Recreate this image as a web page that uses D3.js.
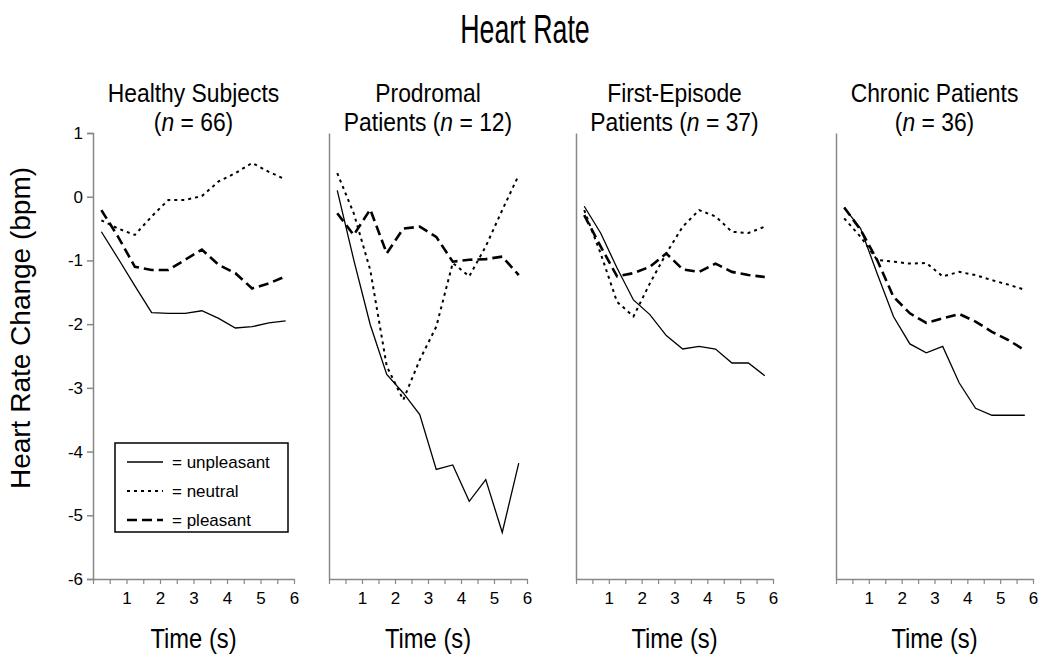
<!DOCTYPE html>
<html>
<head>
<meta charset="utf-8">
<script src="https://cdn.jsdelivr.net/npm/d3@7"></script>
<style>
  body { margin: 0; background: #fff; }
  svg text { font-family: "Liberation Sans", Arial, sans-serif; fill: #000; }
</style>
</head>
<body>
<div id="chart"></div>
<script>
// time bins (s), midpoints of 0.5 s bins
var times = [0.25, 0.75, 1.25, 1.75, 2.25, 2.75, 3.25, 3.75, 4.25, 4.75, 5.25, 5.75];
var xTicks = [0, 0.5, 1, 1.5, 2, 2.5, 3, 3.5, 4, 4.5, 5, 5.5, 6];
var xLabels = [1, 2, 3, 4, 5, 6];
var yTicks = [1, 0, -1, -2, -3, -4, -5, -6];

// title line 1, line 2 before italic n, after italic n
var groupNames = ["Healthy Subjects", "Prodromal", "First-Episode", "Chronic Patients"];
var groupPre = ["(", "Patients (", "Patients (", "("];
var groupN = [" = 66)", " = 12)", " = 37)", " = 36)"];

// heart rate change (bpm) per group
var healthyUnpleasant = [-0.55, -0.97, -1.40, -1.82, -1.83, -1.83, -1.79, -1.91, -2.06, -2.04, -1.98, -1.95];
var healthyNeutral    = [-0.37, -0.50, -0.60, -0.31, -0.05, -0.05, 0.01, 0.24, 0.37, 0.53, 0.39, 0.27];
var healthyPleasant   = [-0.21, -0.63, -1.10, -1.15, -1.15, -0.99, -0.83, -1.07, -1.20, -1.44, -1.36, -1.25];

var prodromalUnpleasant = [0.10, -0.99, -2.01, -2.79, -3.08, -3.42, -4.28, -4.21, -4.78, -4.44, -5.27, -4.18];
var prodromalNeutral    = [0.37, -0.26, -1.15, -2.66, -3.19, -2.56, -2.04, -1.04, -1.25, -0.78, -0.21, 0.34];
var prodromalPleasant   = [-0.26, -0.60, -0.20, -0.89, -0.50, -0.47, -0.63, -1.02, -0.99, -0.98, -0.94, -1.23];

var firstUnpleasant = [-0.15, -0.57, -1.12, -1.62, -1.85, -2.18, -2.39, -2.35, -2.39, -2.61, -2.61, -2.81];
var firstNeutral    = [-0.21, -0.89, -1.65, -1.88, -1.36, -0.89, -0.47, -0.21, -0.31, -0.55, -0.57, -0.47];
var firstPleasant   = [-0.29, -0.78, -1.25, -1.20, -1.10, -0.89, -1.14, -1.18, -1.05, -1.18, -1.23, -1.26];

var chronicUnpleasant = [-0.17, -0.50, -1.20, -1.88, -2.31, -2.45, -2.35, -2.92, -3.32, -3.43, -3.43, -3.43];
var chronicNeutral    = [-0.34, -0.63, -0.99, -1.02, -1.05, -1.04, -1.25, -1.18, -1.23, -1.31, -1.38, -1.46];
var chronicPleasant   = [-0.17, -0.52, -0.99, -1.57, -1.83, -1.98, -1.91, -1.84, -1.96, -2.12, -2.25, -2.41];

var conditions = ["unpleasant", "neutral", "pleasant"];
var series = [
  [healthyUnpleasant, healthyNeutral, healthyPleasant],
  [prodromalUnpleasant, prodromalNeutral, prodromalPleasant],
  [firstUnpleasant, firstNeutral, firstPleasant],
  [chronicUnpleasant, chronicNeutral, chronicPleasant]
];

var W = 1050, H = 663;
var styles = {
  unpleasant: {width: 1.3, dash: null},
  neutral: {width: 2, dash: "3,4"},
  pleasant: {width: 2.6, dash: "10,5"}
};

var svg = d3.select("#chart").append("svg")
    .attr("width", W)
    .attr("height", H);

// narrow-looking text: squeeze horizontally
function narrowText(parent, x, y, size, sx) {
    return parent.append("text")
        .attr("transform", "translate(" + x + "," + y + ") scale(" + sx + ",1)")
        .attr("text-anchor", "middle")
        .style("font-size", size + "px");
}

narrowText(svg, 525, 43, 40, 0.67).text("Heart Rate");

svg.append("text")
    .attr("transform", "translate(30,328) rotate(-90)")
    .attr("text-anchor", "middle")
    .style("font-size", "28px")
    .text("Heart Rate Change (bpm)");

// panel left/right edges
var panels = [[93, 294], [329, 527], [576, 773], [836, 1033]];
var y = d3.scaleLinear().domain([-6, 1]).range([579, 133]);

panels.forEach(function(p, i) {
    var x = d3.scaleLinear().domain([0, 6]).range(p);
    var g = svg.append("g");
    var cx = (p[0] + p[1]) / 2;

    narrowText(g, cx, 102, 26, 0.88).text(groupNames[i]);
    var t2 = narrowText(g, cx, 131, 26, 0.88);
    t2.append("tspan").text(groupPre[i]);
    t2.append("tspan").style("font-style", "italic").text("n");
    t2.append("tspan").text(groupN[i]);

    // y axis
    var yAxis = g.append("g").attr("transform", "translate(" + p[0] + ",0)");
    if (i === 0) {
        yAxis.call(d3.axisLeft(y).tickValues(yTicks).tickSize(6)
            .tickFormat(function(d) { return String(d); }));
    } else {
        yAxis.call(d3.axisLeft(y).tickValues([]).tickSize(0));
    }
    yAxis.select(".domain").attr("stroke", "#888").attr("stroke-width", 1.5);
    yAxis.selectAll(".tick line").attr("stroke", "#888").attr("stroke-width", 1.5);
    yAxis.selectAll(".tick text").style("font-size", "17px").attr("x", -10);

    // x axis
    var xAxis = g.append("g").attr("transform", "translate(0,579)")
        .call(d3.axisBottom(x).tickValues(xTicks).tickSize(5).tickSizeOuter(0)
            .tickFormat(function(d) { return xLabels.indexOf(d) >= 0 ? d : ""; }));
    xAxis.select(".domain").attr("stroke", "#888").attr("stroke-width", 1.5);
    xAxis.selectAll(".tick line").attr("stroke", "#888").attr("stroke-width", 1.2);
    xAxis.selectAll(".tick text").style("font-size", "17px").attr("y", 13);

    narrowText(g, cx, 648, 27, 0.88).text("Time (s)");

    var line = d3.line()
        .x(function(d, j) { return x(times[j]); })
        .y(function(d) { return y(d); });

    conditions.forEach(function(c, k) {
        g.append("path")
            .datum(series[i][k])
            .attr("fill", "none")
            .attr("stroke", "#000")
            .attr("stroke-width", styles[c].width)
            .attr("stroke-dasharray", styles[c].dash)
            .attr("d", line);
    });
});

// legend
var lg = svg.append("g");
lg.append("rect")
    .attr("x", 115).attr("y", 443).attr("width", 173).attr("height", 89)
    .attr("fill", "#fff").attr("stroke", "#000").attr("stroke-width", 1.5);
conditions.forEach(function(c, k) {
    var ry = 462 + k * 29;
    lg.append("line")
        .attr("x1", 127).attr("x2", 163).attr("y1", ry).attr("y2", ry)
        .attr("stroke", "#000")
        .attr("stroke-width", styles[c].width)
        .attr("stroke-dasharray", styles[c].dash);
    lg.append("text")
        .attr("x", 172).attr("y", ry + 6)
        .style("font-size", "17px")
        .text("= " + c);
});
</script>
</body>
</html>
